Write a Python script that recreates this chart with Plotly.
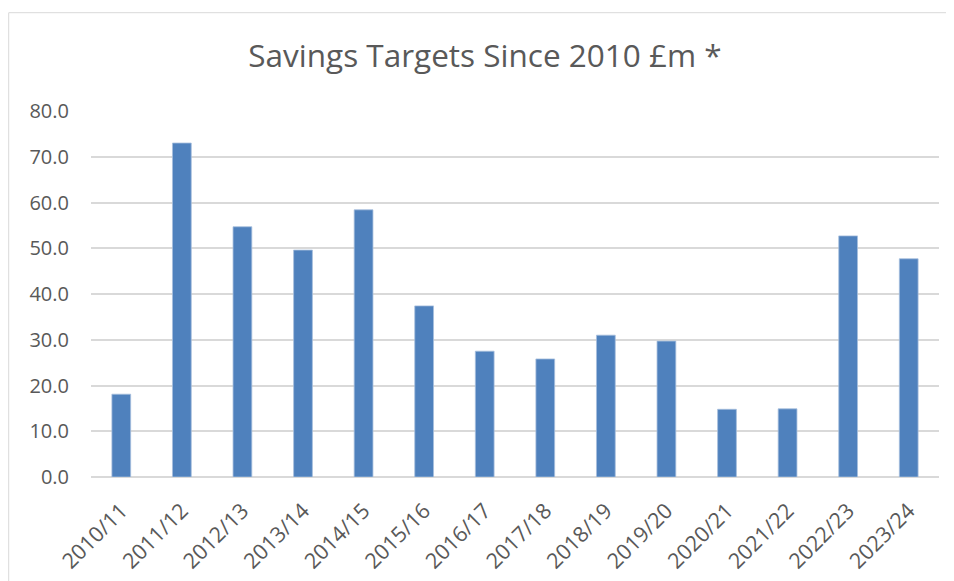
import plotly.graph_objects as go

years = ["2010/11", "2011/12", "2012/13", "2013/14", "2014/15", "2015/16", "2016/17",
         "2017/18", "2018/19", "2019/20", "2020/21", "2021/22", "2022/23", "2023/24"]
savings = [18.1, 73.0, 54.7, 49.6, 58.4, 37.4, 27.5,
           25.8, 31.0, 29.7, 14.8, 14.9, 52.7, 47.7]
y_ticks = [0, 10, 20, 30, 40, 50, 60, 70, 80]

FONT = "Open Sans"
TXT = "#595959"
GRID = "#d9d9d9"
OFF = 8  # page body margin

W, H = 954, 581
L, R, T, B = 91 - OFF, W - (939 - OFF), 111 - OFF, H - (477 - OFF)
PW, PH = W - L - R, H - T - B

fig = go.Figure(go.Bar(
    x=years, y=savings,
    marker=dict(color="#4f81bd", line=dict(color="#a7bfdd", width=0.8)),
))

fig.update_layout(
    width=W, height=H,
    margin=dict(l=L, r=R, t=T, b=B),
    paper_bgcolor="white", plot_bgcolor="white",
    bargap=0.69,
    showlegend=False,
    title=dict(text="Savings Targets Since 2010 £m *", x=(485 - OFF)/W, xref="container",
               xanchor="center", y=1-(56 - OFF)/H, yref="container", yanchor="middle",
               font=dict(family=FONT, size=31.5, color=TXT)),
    font=dict(family=FONT, color=TXT),
    shapes=[dict(type="rect", xref="paper", yref="paper",
                 x0=(8.7 - OFF - L)/PW, x1=1.2, y0=-0.6, y1=(477 - 12.7)/PH,
                 line=dict(color=GRID, width=1), layer="below")],
)
fig.update_yaxes(range=[0, 80], tickvals=y_ticks, tickformat=".1f",
                 showgrid=True, gridcolor=GRID, gridwidth=1.5,
                 zeroline=True, zerolinecolor=GRID, zerolinewidth=1.5,
                 showline=False, ticklabelstandoff=21, automargin=False,
                 tickfont=dict(family=FONT, size=20, color=TXT))
fig.update_xaxes(tickangle=-45, showgrid=False, showline=False, ticklabelstandoff=16,
                 automargin=False,
                 tickfont=dict(family=FONT, size=21.5, color=TXT))

fig.write_html("out.html")
